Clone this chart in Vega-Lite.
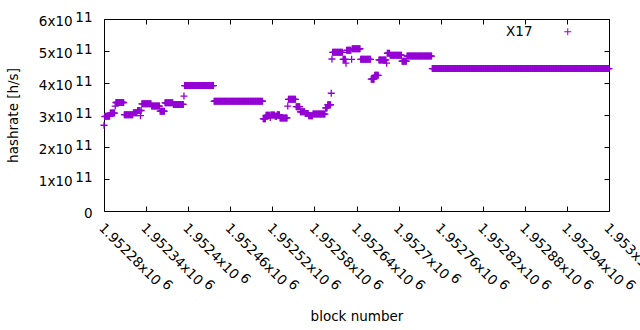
{
"$schema":"https://vega.github.io/schema/vega-lite/v6.json",
"width":505,"height":192,
"autosize":"none",
"padding":{"left":104,"top":19,"right":31,"bottom":119},
"background":"white",
"config":{"view":{"stroke":"black","strokeWidth":1},"font":"DejaVu Sans",
"axis":{"labelFont":"DejaVu Sans","titleFont":"DejaVu Sans","labelFontSize":13.5,"titleFontSize":13.5,"titleFontWeight":"normal","labelColor":"black","titleColor":"black","tickColor":"black","tickWidth":1,"domain":false,"grid":false}},
"data":{"values":[
{"b":1952280,"h":2.68e11},{"b":1952281,"h":2.95e11},
{"b":1952282,"h":2.96e11},{"b":1952283,"h":2.96e11},{"b":1952284,"h":2.96e11},{"b":1952285,"h":2.96e11},{"b":1952286,"h":2.96e11},{"b":1952287,"h":2.96e11},{"b":1952288,"h":2.96e11},
{"b":1952289,"h":3.06e11},{"b":1952290,"h":3.06e11},{"b":1952291,"h":3.06e11},{"b":1952292,"h":3.06e11},{"b":1952293,"h":3.06e11},{"b":1952294,"h":3.06e11},{"b":1952295,"h":3.06e11},
{"b":1952296,"h":3.28e11},
{"b":1952297,"h":3.39e11},{"b":1952298,"h":3.39e11},{"b":1952299,"h":3.39e11},{"b":1952300,"h":3.39e11},{"b":1952301,"h":3.39e11},{"b":1952302,"h":3.39e11},{"b":1952303,"h":3.39e11},{"b":1952304,"h":3.39e11},{"b":1952305,"h":3.39e11},{"b":1952306,"h":3.39e11},{"b":1952307,"h":3.39e11},{"b":1952308,"h":3.39e11},
{"b":1952309,"h":3.01e11},{"b":1952310,"h":3.01e11},{"b":1952311,"h":3.01e11},{"b":1952312,"h":3.01e11},{"b":1952313,"h":3.01e11},{"b":1952314,"h":3.01e11},{"b":1952315,"h":3.01e11},{"b":1952316,"h":3.01e11},{"b":1952317,"h":3.01e11},{"b":1952318,"h":3.01e11},{"b":1952319,"h":3.01e11},{"b":1952320,"h":3.01e11},{"b":1952321,"h":3.01e11},
{"b":1952322,"h":3.07e11},{"b":1952323,"h":3.07e11},{"b":1952324,"h":3.07e11},{"b":1952325,"h":3.07e11},{"b":1952326,"h":3.07e11},{"b":1952327,"h":3.07e11},
{"b":1952328,"h":3.14e11},{"b":1952329,"h":3.14e11},{"b":1952330,"h":3.14e11},{"b":1952331,"h":3.14e11},
{"b":1952332,"h":2.98e11},{"b":1952333,"h":3.14e11},
{"b":1952334,"h":3.35e11},{"b":1952335,"h":3.35e11},{"b":1952336,"h":3.35e11},{"b":1952337,"h":3.35e11},{"b":1952338,"h":3.35e11},{"b":1952339,"h":3.35e11},{"b":1952340,"h":3.35e11},{"b":1952341,"h":3.35e11},{"b":1952342,"h":3.35e11},{"b":1952343,"h":3.35e11},{"b":1952344,"h":3.35e11},{"b":1952345,"h":3.35e11},{"b":1952346,"h":3.35e11},{"b":1952347,"h":3.35e11},
{"b":1952348,"h":3.28e11},{"b":1952349,"h":3.28e11},{"b":1952350,"h":3.28e11},{"b":1952351,"h":3.28e11},{"b":1952352,"h":3.28e11},{"b":1952353,"h":3.28e11},{"b":1952354,"h":3.28e11},{"b":1952355,"h":3.28e11},{"b":1952356,"h":3.28e11},{"b":1952357,"h":3.28e11},{"b":1952358,"h":3.28e11},{"b":1952359,"h":3.28e11},
{"b":1952360,"h":3.12e11},{"b":1952361,"h":3.12e11},{"b":1952362,"h":3.12e11},{"b":1952363,"h":3.12e11},{"b":1952364,"h":3.12e11},{"b":1952365,"h":3.12e11},{"b":1952366,"h":3.12e11},
{"b":1952367,"h":3.38e11},{"b":1952368,"h":3.38e11},{"b":1952369,"h":3.38e11},{"b":1952370,"h":3.38e11},{"b":1952371,"h":3.38e11},{"b":1952372,"h":3.38e11},{"b":1952373,"h":3.38e11},{"b":1952374,"h":3.38e11},{"b":1952375,"h":3.38e11},{"b":1952376,"h":3.38e11},{"b":1952377,"h":3.38e11},{"b":1952378,"h":3.38e11},
{"b":1952379,"h":3.33e11},{"b":1952380,"h":3.33e11},{"b":1952381,"h":3.33e11},{"b":1952382,"h":3.33e11},{"b":1952383,"h":3.33e11},{"b":1952384,"h":3.33e11},{"b":1952385,"h":3.33e11},{"b":1952386,"h":3.33e11},{"b":1952387,"h":3.33e11},{"b":1952388,"h":3.33e11},{"b":1952389,"h":3.33e11},{"b":1952390,"h":3.33e11},{"b":1952391,"h":3.33e11},{"b":1952392,"h":3.33e11},{"b":1952393,"h":3.33e11},
{"b":1952394,"h":3.59e11},
{"b":1952395,"h":3.92e11},{"b":1952396,"h":3.92e11},{"b":1952397,"h":3.92e11},{"b":1952398,"h":3.92e11},{"b":1952399,"h":3.92e11},{"b":1952400,"h":3.92e11},{"b":1952401,"h":3.92e11},{"b":1952402,"h":3.92e11},{"b":1952403,"h":3.92e11},{"b":1952404,"h":3.92e11},{"b":1952405,"h":3.92e11},{"b":1952406,"h":3.92e11},{"b":1952407,"h":3.92e11},{"b":1952408,"h":3.92e11},{"b":1952409,"h":3.92e11},{"b":1952410,"h":3.92e11},{"b":1952411,"h":3.92e11},{"b":1952412,"h":3.92e11},{"b":1952413,"h":3.92e11},{"b":1952414,"h":3.92e11},{"b":1952415,"h":3.92e11},{"b":1952416,"h":3.92e11},{"b":1952417,"h":3.92e11},{"b":1952418,"h":3.92e11},{"b":1952419,"h":3.92e11},{"b":1952420,"h":3.92e11},{"b":1952421,"h":3.92e11},{"b":1952422,"h":3.92e11},{"b":1952423,"h":3.92e11},{"b":1952424,"h":3.92e11},{"b":1952425,"h":3.92e11},{"b":1952426,"h":3.92e11},{"b":1952427,"h":3.92e11},{"b":1952428,"h":3.92e11},{"b":1952429,"h":3.92e11},{"b":1952430,"h":3.92e11},{"b":1952431,"h":3.92e11},{"b":1952432,"h":3.92e11},{"b":1952433,"h":3.92e11},{"b":1952434,"h":3.92e11},{"b":1952435,"h":3.92e11},{"b":1952436,"h":3.92e11},
{"b":1952437,"h":3.43e11},{"b":1952438,"h":3.43e11},{"b":1952439,"h":3.43e11},{"b":1952440,"h":3.43e11},{"b":1952441,"h":3.43e11},{"b":1952442,"h":3.43e11},{"b":1952443,"h":3.43e11},{"b":1952444,"h":3.43e11},{"b":1952445,"h":3.43e11},{"b":1952446,"h":3.43e11},{"b":1952447,"h":3.43e11},{"b":1952448,"h":3.43e11},{"b":1952449,"h":3.43e11},{"b":1952450,"h":3.43e11},{"b":1952451,"h":3.43e11},{"b":1952452,"h":3.43e11},{"b":1952453,"h":3.43e11},{"b":1952454,"h":3.43e11},{"b":1952455,"h":3.43e11},{"b":1952456,"h":3.43e11},{"b":1952457,"h":3.43e11},{"b":1952458,"h":3.43e11},{"b":1952459,"h":3.43e11},{"b":1952460,"h":3.43e11},{"b":1952461,"h":3.43e11},{"b":1952462,"h":3.43e11},{"b":1952463,"h":3.43e11},{"b":1952464,"h":3.43e11},{"b":1952465,"h":3.43e11},{"b":1952466,"h":3.43e11},{"b":1952467,"h":3.43e11},{"b":1952468,"h":3.43e11},{"b":1952469,"h":3.43e11},{"b":1952470,"h":3.43e11},{"b":1952471,"h":3.43e11},{"b":1952472,"h":3.43e11},{"b":1952473,"h":3.43e11},{"b":1952474,"h":3.43e11},{"b":1952475,"h":3.43e11},{"b":1952476,"h":3.43e11},{"b":1952477,"h":3.43e11},{"b":1952478,"h":3.43e11},{"b":1952479,"h":3.43e11},{"b":1952480,"h":3.43e11},{"b":1952481,"h":3.43e11},{"b":1952482,"h":3.43e11},{"b":1952483,"h":3.43e11},{"b":1952484,"h":3.43e11},{"b":1952485,"h":3.43e11},{"b":1952486,"h":3.43e11},{"b":1952487,"h":3.43e11},{"b":1952488,"h":3.43e11},{"b":1952489,"h":3.43e11},{"b":1952490,"h":3.43e11},{"b":1952491,"h":3.43e11},{"b":1952492,"h":3.43e11},{"b":1952493,"h":3.43e11},{"b":1952494,"h":3.43e11},{"b":1952495,"h":3.43e11},{"b":1952496,"h":3.43e11},{"b":1952497,"h":3.43e11},{"b":1952498,"h":3.43e11},{"b":1952499,"h":3.43e11},{"b":1952500,"h":3.43e11},{"b":1952501,"h":3.43e11},{"b":1952502,"h":3.43e11},{"b":1952503,"h":3.43e11},{"b":1952504,"h":3.43e11},{"b":1952505,"h":3.43e11},{"b":1952506,"h":3.43e11},
{"b":1952507,"h":2.88e11},{"b":1952508,"h":2.88e11},{"b":1952509,"h":2.88e11},{"b":1952510,"h":2.88e11},
{"b":1952511,"h":2.99e11},{"b":1952512,"h":2.99e11},{"b":1952513,"h":2.99e11},{"b":1952514,"h":2.99e11},{"b":1952515,"h":2.99e11},{"b":1952516,"h":2.99e11},
{"b":1952517,"h":2.92e11},
{"b":1952518,"h":3.0e11},{"b":1952519,"h":3.0e11},{"b":1952520,"h":3.0e11},{"b":1952521,"h":3.0e11},{"b":1952522,"h":3.0e11},{"b":1952523,"h":3.0e11},
{"b":1952524,"h":2.96e11},{"b":1952525,"h":2.96e11},{"b":1952526,"h":2.96e11},
{"b":1952527,"h":3.01e11},{"b":1952528,"h":3.01e11},{"b":1952529,"h":3.01e11},{"b":1952530,"h":3.01e11},
{"b":1952531,"h":2.91e11},{"b":1952532,"h":2.91e11},{"b":1952533,"h":2.91e11},{"b":1952534,"h":2.91e11},{"b":1952535,"h":2.91e11},{"b":1952536,"h":2.91e11},{"b":1952537,"h":2.91e11},{"b":1952538,"h":2.91e11},{"b":1952539,"h":2.91e11},{"b":1952540,"h":2.91e11},{"b":1952541,"h":2.91e11},
{"b":1952542,"h":3.28e11},
{"b":1952543,"h":3.49e11},{"b":1952544,"h":3.49e11},{"b":1952545,"h":3.49e11},{"b":1952546,"h":3.49e11},{"b":1952547,"h":3.49e11},{"b":1952548,"h":3.49e11},{"b":1952549,"h":3.49e11},{"b":1952550,"h":3.49e11},{"b":1952551,"h":3.49e11},{"b":1952552,"h":3.49e11},{"b":1952553,"h":3.49e11},
{"b":1952554,"h":3.26e11},{"b":1952555,"h":3.26e11},{"b":1952556,"h":3.26e11},{"b":1952557,"h":3.26e11},{"b":1952558,"h":3.26e11},{"b":1952559,"h":3.26e11},
{"b":1952560,"h":3.1e11},{"b":1952561,"h":3.1e11},{"b":1952562,"h":3.1e11},{"b":1952563,"h":3.1e11},{"b":1952564,"h":3.1e11},{"b":1952565,"h":3.1e11},{"b":1952566,"h":3.1e11},
{"b":1952567,"h":3.05e11},{"b":1952568,"h":3.05e11},{"b":1952569,"h":3.05e11},{"b":1952570,"h":3.05e11},{"b":1952571,"h":3.05e11},
{"b":1952572,"h":2.98e11},{"b":1952573,"h":2.98e11},{"b":1952574,"h":2.98e11},{"b":1952575,"h":2.98e11},{"b":1952576,"h":2.98e11},{"b":1952577,"h":2.98e11},
{"b":1952578,"h":3.03e11},{"b":1952579,"h":3.03e11},{"b":1952580,"h":3.03e11},{"b":1952581,"h":3.03e11},{"b":1952582,"h":3.03e11},{"b":1952583,"h":3.03e11},{"b":1952584,"h":3.03e11},{"b":1952585,"h":3.03e11},{"b":1952586,"h":3.03e11},{"b":1952587,"h":3.03e11},{"b":1952588,"h":3.03e11},{"b":1952589,"h":3.03e11},{"b":1952590,"h":3.03e11},{"b":1952591,"h":3.03e11},{"b":1952592,"h":3.03e11},{"b":1952593,"h":3.03e11},{"b":1952594,"h":3.03e11},{"b":1952595,"h":3.03e11},
{"b":1952596,"h":3.22e11},{"b":1952597,"h":3.22e11},{"b":1952598,"h":3.22e11},
{"b":1952599,"h":3.32e11},{"b":1952600,"h":3.32e11},{"b":1952601,"h":3.32e11},{"b":1952602,"h":3.32e11},{"b":1952603,"h":3.32e11},
{"b":1952604,"h":3.68e11},{"b":1952605,"h":4.75e11},
{"b":1952606,"h":4.96e11},{"b":1952607,"h":4.96e11},{"b":1952608,"h":4.96e11},{"b":1952609,"h":4.96e11},{"b":1952610,"h":4.96e11},{"b":1952611,"h":4.96e11},{"b":1952612,"h":4.96e11},{"b":1952613,"h":4.96e11},{"b":1952614,"h":4.96e11},{"b":1952615,"h":4.96e11},{"b":1952616,"h":4.96e11},{"b":1952617,"h":4.96e11},{"b":1952618,"h":4.96e11},{"b":1952619,"h":4.96e11},{"b":1952620,"h":4.96e11},
{"b":1952621,"h":4.74e11},{"b":1952622,"h":4.74e11},{"b":1952623,"h":4.74e11},{"b":1952624,"h":4.74e11},
{"b":1952625,"h":4.62e11},
{"b":1952626,"h":5.02e11},{"b":1952627,"h":5.02e11},{"b":1952628,"h":5.02e11},{"b":1952629,"h":5.02e11},{"b":1952630,"h":5.02e11},{"b":1952631,"h":5.02e11},{"b":1952632,"h":5.02e11},
{"b":1952633,"h":4.74e11},
{"b":1952634,"h":5.07e11},{"b":1952635,"h":5.07e11},{"b":1952636,"h":5.07e11},{"b":1952637,"h":5.07e11},{"b":1952638,"h":5.07e11},{"b":1952639,"h":5.07e11},{"b":1952640,"h":5.07e11},{"b":1952641,"h":5.07e11},{"b":1952642,"h":5.07e11},{"b":1952643,"h":5.07e11},{"b":1952644,"h":5.07e11},{"b":1952645,"h":5.07e11},
{"b":1952646,"h":4.74e11},{"b":1952647,"h":4.74e11},{"b":1952648,"h":4.74e11},{"b":1952649,"h":4.74e11},{"b":1952650,"h":4.74e11},{"b":1952651,"h":4.74e11},{"b":1952652,"h":4.74e11},{"b":1952653,"h":4.74e11},{"b":1952654,"h":4.74e11},{"b":1952655,"h":4.74e11},{"b":1952656,"h":4.74e11},{"b":1952657,"h":4.74e11},{"b":1952658,"h":4.74e11},{"b":1952659,"h":4.74e11},{"b":1952660,"h":4.74e11},
{"b":1952661,"h":4.12e11},{"b":1952662,"h":4.12e11},{"b":1952663,"h":4.12e11},{"b":1952664,"h":4.12e11},{"b":1952665,"h":4.12e11},
{"b":1952666,"h":4.24e11},{"b":1952667,"h":4.24e11},{"b":1952668,"h":4.24e11},{"b":1952669,"h":4.24e11},{"b":1952670,"h":4.24e11},{"b":1952671,"h":4.24e11},
{"b":1952672,"h":4.72e11},{"b":1952673,"h":4.72e11},{"b":1952674,"h":4.72e11},{"b":1952675,"h":4.72e11},{"b":1952676,"h":4.72e11},{"b":1952677,"h":4.72e11},{"b":1952678,"h":4.72e11},{"b":1952679,"h":4.72e11},{"b":1952680,"h":4.72e11},{"b":1952681,"h":4.72e11},{"b":1952682,"h":4.72e11},
{"b":1952683,"h":4.62e11},
{"b":1952684,"h":4.93e11},{"b":1952685,"h":4.93e11},{"b":1952686,"h":4.93e11},{"b":1952687,"h":4.93e11},
{"b":1952688,"h":4.87e11},{"b":1952689,"h":4.87e11},{"b":1952690,"h":4.87e11},{"b":1952691,"h":4.87e11},{"b":1952692,"h":4.87e11},{"b":1952693,"h":4.87e11},{"b":1952694,"h":4.87e11},{"b":1952695,"h":4.87e11},{"b":1952696,"h":4.87e11},{"b":1952697,"h":4.87e11},{"b":1952698,"h":4.87e11},{"b":1952699,"h":4.87e11},{"b":1952700,"h":4.87e11},{"b":1952701,"h":4.87e11},{"b":1952702,"h":4.87e11},{"b":1952703,"h":4.87e11},{"b":1952704,"h":4.87e11},
{"b":1952705,"h":4.68e11},{"b":1952706,"h":4.68e11},{"b":1952707,"h":4.68e11},{"b":1952708,"h":4.68e11},{"b":1952709,"h":4.68e11},{"b":1952710,"h":4.68e11},{"b":1952711,"h":4.68e11},
{"b":1952712,"h":4.84e11},{"b":1952713,"h":4.84e11},{"b":1952714,"h":4.84e11},{"b":1952715,"h":4.84e11},{"b":1952716,"h":4.84e11},{"b":1952717,"h":4.84e11},{"b":1952718,"h":4.84e11},{"b":1952719,"h":4.84e11},{"b":1952720,"h":4.84e11},{"b":1952721,"h":4.84e11},{"b":1952722,"h":4.84e11},{"b":1952723,"h":4.84e11},{"b":1952724,"h":4.84e11},{"b":1952725,"h":4.84e11},{"b":1952726,"h":4.84e11},{"b":1952727,"h":4.84e11},{"b":1952728,"h":4.84e11},{"b":1952729,"h":4.84e11},{"b":1952730,"h":4.84e11},{"b":1952731,"h":4.84e11},{"b":1952732,"h":4.84e11},{"b":1952733,"h":4.84e11},{"b":1952734,"h":4.84e11},{"b":1952735,"h":4.84e11},{"b":1952736,"h":4.84e11},{"b":1952737,"h":4.84e11},{"b":1952738,"h":4.84e11},{"b":1952739,"h":4.84e11},{"b":1952740,"h":4.84e11},{"b":1952741,"h":4.84e11},{"b":1952742,"h":4.84e11},{"b":1952743,"h":4.84e11},{"b":1952744,"h":4.84e11},{"b":1952745,"h":4.84e11},{"b":1952746,"h":4.84e11},{"b":1952747,"h":4.84e11},
{"b":1952748,"h":4.45e11},{"b":1952749,"h":4.45e11},{"b":1952750,"h":4.45e11},{"b":1952751,"h":4.45e11},{"b":1952752,"h":4.45e11},{"b":1952753,"h":4.45e11},{"b":1952754,"h":4.45e11},{"b":1952755,"h":4.45e11},{"b":1952756,"h":4.45e11},{"b":1952757,"h":4.45e11},{"b":1952758,"h":4.45e11},{"b":1952759,"h":4.45e11},{"b":1952760,"h":4.45e11},{"b":1952761,"h":4.45e11},{"b":1952762,"h":4.45e11},{"b":1952763,"h":4.45e11},{"b":1952764,"h":4.45e11},{"b":1952765,"h":4.45e11},{"b":1952766,"h":4.45e11},{"b":1952767,"h":4.45e11},{"b":1952768,"h":4.45e11},{"b":1952769,"h":4.45e11},{"b":1952770,"h":4.45e11},{"b":1952771,"h":4.45e11},{"b":1952772,"h":4.45e11},{"b":1952773,"h":4.45e11},{"b":1952774,"h":4.45e11},{"b":1952775,"h":4.45e11},{"b":1952776,"h":4.45e11},{"b":1952777,"h":4.45e11},{"b":1952778,"h":4.45e11},{"b":1952779,"h":4.45e11},{"b":1952780,"h":4.45e11},{"b":1952781,"h":4.45e11},{"b":1952782,"h":4.45e11},{"b":1952783,"h":4.45e11},{"b":1952784,"h":4.45e11},{"b":1952785,"h":4.45e11},{"b":1952786,"h":4.45e11},{"b":1952787,"h":4.45e11},{"b":1952788,"h":4.45e11},{"b":1952789,"h":4.45e11},{"b":1952790,"h":4.45e11},{"b":1952791,"h":4.45e11},{"b":1952792,"h":4.45e11},{"b":1952793,"h":4.45e11},{"b":1952794,"h":4.45e11},{"b":1952795,"h":4.45e11},{"b":1952796,"h":4.45e11},{"b":1952797,"h":4.45e11},{"b":1952798,"h":4.45e11},{"b":1952799,"h":4.45e11},
{"b":1952800,"h":4.45e11},{"b":1952801,"h":4.45e11},{"b":1952802,"h":4.45e11},{"b":1952803,"h":4.45e11},{"b":1952804,"h":4.45e11},{"b":1952805,"h":4.45e11},{"b":1952806,"h":4.45e11},{"b":1952807,"h":4.45e11},{"b":1952808,"h":4.45e11},{"b":1952809,"h":4.45e11},{"b":1952810,"h":4.45e11},{"b":1952811,"h":4.45e11},{"b":1952812,"h":4.45e11},{"b":1952813,"h":4.45e11},{"b":1952814,"h":4.45e11},{"b":1952815,"h":4.45e11},{"b":1952816,"h":4.45e11},{"b":1952817,"h":4.45e11},{"b":1952818,"h":4.45e11},{"b":1952819,"h":4.45e11},{"b":1952820,"h":4.45e11},{"b":1952821,"h":4.45e11},{"b":1952822,"h":4.45e11},{"b":1952823,"h":4.45e11},{"b":1952824,"h":4.45e11},{"b":1952825,"h":4.45e11},{"b":1952826,"h":4.45e11},{"b":1952827,"h":4.45e11},{"b":1952828,"h":4.45e11},{"b":1952829,"h":4.45e11},{"b":1952830,"h":4.45e11},{"b":1952831,"h":4.45e11},{"b":1952832,"h":4.45e11},{"b":1952833,"h":4.45e11},{"b":1952834,"h":4.45e11},{"b":1952835,"h":4.45e11},{"b":1952836,"h":4.45e11},{"b":1952837,"h":4.45e11},{"b":1952838,"h":4.45e11},{"b":1952839,"h":4.45e11},{"b":1952840,"h":4.45e11},{"b":1952841,"h":4.45e11},{"b":1952842,"h":4.45e11},{"b":1952843,"h":4.45e11},{"b":1952844,"h":4.45e11},{"b":1952845,"h":4.45e11},{"b":1952846,"h":4.45e11},{"b":1952847,"h":4.45e11},{"b":1952848,"h":4.45e11},{"b":1952849,"h":4.45e11},
{"b":1952850,"h":4.45e11},{"b":1952851,"h":4.45e11},{"b":1952852,"h":4.45e11},{"b":1952853,"h":4.45e11},{"b":1952854,"h":4.45e11},{"b":1952855,"h":4.45e11},{"b":1952856,"h":4.45e11},{"b":1952857,"h":4.45e11},{"b":1952858,"h":4.45e11},{"b":1952859,"h":4.45e11},{"b":1952860,"h":4.45e11},{"b":1952861,"h":4.45e11},{"b":1952862,"h":4.45e11},{"b":1952863,"h":4.45e11},{"b":1952864,"h":4.45e11},{"b":1952865,"h":4.45e11},{"b":1952866,"h":4.45e11},{"b":1952867,"h":4.45e11},{"b":1952868,"h":4.45e11},{"b":1952869,"h":4.45e11},{"b":1952870,"h":4.45e11},{"b":1952871,"h":4.45e11},{"b":1952872,"h":4.45e11},{"b":1952873,"h":4.45e11},{"b":1952874,"h":4.45e11},{"b":1952875,"h":4.45e11},{"b":1952876,"h":4.45e11},{"b":1952877,"h":4.45e11},{"b":1952878,"h":4.45e11},{"b":1952879,"h":4.45e11},{"b":1952880,"h":4.45e11},{"b":1952881,"h":4.45e11},{"b":1952882,"h":4.45e11},{"b":1952883,"h":4.45e11},{"b":1952884,"h":4.45e11},{"b":1952885,"h":4.45e11},{"b":1952886,"h":4.45e11},{"b":1952887,"h":4.45e11},{"b":1952888,"h":4.45e11},{"b":1952889,"h":4.45e11},{"b":1952890,"h":4.45e11},{"b":1952891,"h":4.45e11},{"b":1952892,"h":4.45e11},{"b":1952893,"h":4.45e11},{"b":1952894,"h":4.45e11},{"b":1952895,"h":4.45e11},{"b":1952896,"h":4.45e11},{"b":1952897,"h":4.45e11},{"b":1952898,"h":4.45e11},{"b":1952899,"h":4.45e11},
{"b":1952900,"h":4.45e11},{"b":1952901,"h":4.45e11},{"b":1952902,"h":4.45e11},{"b":1952903,"h":4.45e11},{"b":1952904,"h":4.45e11},{"b":1952905,"h":4.45e11},{"b":1952906,"h":4.45e11},{"b":1952907,"h":4.45e11},{"b":1952908,"h":4.45e11},{"b":1952909,"h":4.45e11},{"b":1952910,"h":4.45e11},{"b":1952911,"h":4.45e11},{"b":1952912,"h":4.45e11},{"b":1952913,"h":4.45e11},{"b":1952914,"h":4.45e11},{"b":1952915,"h":4.45e11},{"b":1952916,"h":4.45e11},{"b":1952917,"h":4.45e11},{"b":1952918,"h":4.45e11},{"b":1952919,"h":4.45e11},{"b":1952920,"h":4.45e11},{"b":1952921,"h":4.45e11},{"b":1952922,"h":4.45e11},{"b":1952923,"h":4.45e11},{"b":1952924,"h":4.45e11},{"b":1952925,"h":4.45e11},{"b":1952926,"h":4.45e11},{"b":1952927,"h":4.45e11},{"b":1952928,"h":4.45e11},{"b":1952929,"h":4.45e11},{"b":1952930,"h":4.45e11},{"b":1952931,"h":4.45e11},{"b":1952932,"h":4.45e11},{"b":1952933,"h":4.45e11},{"b":1952934,"h":4.45e11},{"b":1952935,"h":4.45e11},{"b":1952936,"h":4.45e11},{"b":1952937,"h":4.45e11},{"b":1952938,"h":4.45e11},{"b":1952939,"h":4.45e11},{"b":1952940,"h":4.45e11},{"b":1952941,"h":4.45e11},{"b":1952942,"h":4.45e11},{"b":1952943,"h":4.45e11},{"b":1952944,"h":4.45e11},{"b":1952945,"h":4.45e11},{"b":1952946,"h":4.45e11},{"b":1952947,"h":4.45e11},{"b":1952948,"h":4.45e11},{"b":1952949,"h":4.45e11},
{"b":1952950,"h":4.45e11},{"b":1952951,"h":4.45e11},{"b":1952952,"h":4.45e11},{"b":1952953,"h":4.45e11},{"b":1952954,"h":4.45e11},{"b":1952955,"h":4.45e11},{"b":1952956,"h":4.45e11},{"b":1952957,"h":4.45e11},{"b":1952958,"h":4.45e11},{"b":1952959,"h":4.45e11},{"b":1952960,"h":4.45e11},{"b":1952961,"h":4.45e11},{"b":1952962,"h":4.45e11},{"b":1952963,"h":4.45e11},{"b":1952964,"h":4.45e11},{"b":1952965,"h":4.45e11},{"b":1952966,"h":4.45e11},{"b":1952967,"h":4.45e11},{"b":1952968,"h":4.45e11},{"b":1952969,"h":4.45e11},{"b":1952970,"h":4.45e11},{"b":1952971,"h":4.45e11},{"b":1952972,"h":4.45e11},{"b":1952973,"h":4.45e11},{"b":1952974,"h":4.45e11},{"b":1952975,"h":4.45e11},{"b":1952976,"h":4.45e11},{"b":1952977,"h":4.45e11},{"b":1952978,"h":4.45e11},{"b":1952979,"h":4.45e11},{"b":1952980,"h":4.45e11},{"b":1952981,"h":4.45e11},{"b":1952982,"h":4.45e11},{"b":1952983,"h":4.45e11},{"b":1952984,"h":4.45e11},{"b":1952985,"h":4.45e11},{"b":1952986,"h":4.45e11},{"b":1952987,"h":4.45e11},{"b":1952988,"h":4.45e11},{"b":1952989,"h":4.45e11},{"b":1952990,"h":4.45e11},{"b":1952991,"h":4.45e11},{"b":1952992,"h":4.45e11},{"b":1952993,"h":4.45e11},{"b":1952994,"h":4.45e11},{"b":1952995,"h":4.45e11},{"b":1952996,"h":4.45e11},{"b":1952997,"h":4.45e11},{"b":1952998,"h":4.45e11},{"b":1952999,"h":4.45e11},{"b":1953000,"h":4.45e11}
]},
"layer":[
{"mark":{"type":"point","shape":"M-1,0L1,0M0,-1L0,1","filled":false,"strokeWidth":1.3,"size":49,"opacity":1},
"encoding":{
"x":{"field":"b","type":"quantitative","scale":{"domain":[1952280,1953000],"nice":false,"zero":false},
"axis":{"orient":"bottom","values":[1952280,1952340,1952400,1952460,1952520,1952580,1952640,1952700,1952760,1952820,1952880,1952940,1953000],"labelExpr":"['\u200b'+replace(replace(format(datum.value/1e6,'.5~f'),regexp('[0-9]','g'),'\u2007'),'.','\u2008')+'\u00a0\u00a0\u2007\u2007\u2009'+'6', format(datum.value/1e6,'.5~f')+'x10']","labelLineHeight":5,"labelAngle":45,"labelAlign":"left","labelBaseline":"middle","tickSize":-5,"labelPadding":16,"labelOverlap":false,"labelFlush":false,"labelBound":false,"title":"block number","titlePadding":14}},
"y":{"field":"h","type":"quantitative","scale":{"domain":[0,6e11],"nice":false,"zero":true},
"axis":{"orient":"left","values":[0,1e11,2e11,3e11,4e11,5e11,6e11],"labelExpr":"datum.value==0?['','0']:['11',format(datum.value/1e11,'d')+'x10\u2009\u2007\u2007\u200b']","labelLineHeight":4,"labelOffset":-2,"tickSize":-5,"labelPadding":17,"labelOverlap":false,"labelFlush":false,"title":"hashrate [h/s]","titlePadding":18}},
"color":{"datum":"X17","type":"nominal","scale":{"range":["#9400d3"]},
"legend":{"orient":"none","legendX":457,"legendY":6,"title":null,"padding":0,"symbolType":"M-1,0L1,0M0,-1L0,1","symbolSize":49,"symbolStrokeWidth":1,"symbolStrokeColor":"#9400d3","labelAlign":"right","labelOffset":-42,"labelFontSize":13.5,"labelFont":"DejaVu Sans","labelColor":"black"}}
}},
{"data":{"values":[{"b":1952280,"h":0}]},
"mark":{"type":"point","opacity":0},
"encoding":{
"x":{"field":"b","type":"quantitative","scale":{"domain":[1952280,1953000],"nice":false,"zero":false},
"axis":{"orient":"top","values":[1952280,1952340,1952400,1952460,1952520,1952580,1952640,1952700,1952760,1952820,1952880,1952940,1953000],"labels":false,"tickSize":-5,"title":null}},
"y":{"field":"h","type":"quantitative","scale":{"domain":[0,6e11],"nice":false,"zero":true},
"axis":{"orient":"right","values":[0,1e11,2e11,3e11,4e11,5e11,6e11],"labels":false,"tickSize":-5,"title":null}}
}}
],
"resolve":{"axis":{"x":"independent","y":"independent"}}
}
